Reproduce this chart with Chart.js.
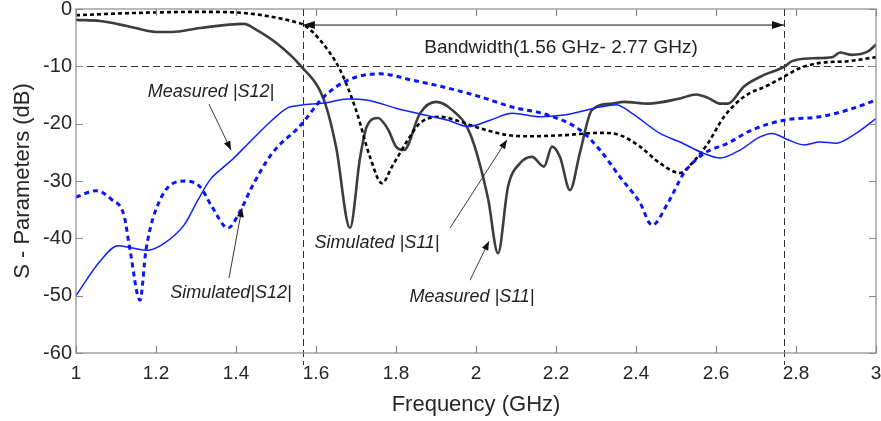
<!DOCTYPE html>
<html>
<head>
<meta charset="utf-8">
<script src="https://cdn.jsdelivr.net/npm/chart.js@4.4.1/dist/chart.umd.min.js"></script>
<style>
  html, body { margin: 0; background: #fff; }
</style>
</head>
<body>
<canvas id="sparams" width="881" height="421"></canvas>
<script>
// Frequency (GHz) / level (dB)
const measS11Freq = [1.00, 1.06, 1.13, 1.20, 1.24, 1.31, 1.42, 1.45, 1.50, 1.56, 1.62, 1.65, 1.685, 1.71, 1.727, 1.755, 1.78, 1.80, 1.82, 1.86, 1.90, 1.94, 1.985, 2.03, 2.055, 2.08, 2.11, 2.14, 2.17, 2.19, 2.21, 2.235, 2.26, 2.29, 2.34, 2.37, 2.43, 2.51, 2.55, 2.58, 2.61, 2.63, 2.67, 2.72, 2.77, 2.79, 2.84, 2.89, 2.91, 2.94, 2.98, 3.00];
const measS11Db = [-1.9, -2.1, -3.0, -4.0, -4.0, -3.3, -2.6, -3.6, -5.9, -9.8, -15.9, -24.0, -38.2, -26.0, -20.5, -19.0, -21.0, -24.0, -24.6, -18.2, -16.2, -17.6, -21.7, -33.0, -42.6, -31.0, -26.9, -25.8, -27.5, -24.0, -25.8, -31.6, -25.0, -17.6, -16.5, -16.2, -16.5, -15.6, -14.9, -15.5, -16.5, -16.5, -13.5, -11.5, -10.1, -9.1, -8.6, -8.4, -7.6, -8.0, -7.4, -6.2];

const simS11Freq = [1.00, 1.10, 1.20, 1.31, 1.42, 1.50, 1.55, 1.57, 1.61, 1.66, 1.70, 1.735, 1.765, 1.79, 1.83, 1.86, 1.91, 1.95, 2.01, 2.08, 2.135, 2.22, 2.31, 2.36, 2.41, 2.46, 2.51, 2.54, 2.58, 2.62, 2.67, 2.73, 2.77, 2.81, 2.86, 2.93, 3.00];
const simS11Db = [-1.1, -0.8, -0.6, -0.5, -0.7, -1.5, -2.3, -2.8, -5.4, -10.6, -17.6, -25.8, -30.4, -27.5, -22.8, -19.9, -18.8, -19.4, -20.8, -22.0, -22.2, -22.0, -21.6, -22.0, -24.0, -26.9, -28.6, -26.9, -23.4, -18.8, -15.3, -13.3, -11.8, -10.3, -9.4, -9.1, -8.4];

const measS12Freq = [1.00, 1.06, 1.105, 1.14, 1.18, 1.22, 1.27, 1.305, 1.335, 1.37, 1.39, 1.44, 1.49, 1.53, 1.56, 1.62, 1.68, 1.73, 1.80, 1.86, 1.93, 1.98, 2.035, 2.09, 2.16, 2.22, 2.31, 2.35, 2.39, 2.46, 2.51, 2.57, 2.61, 2.66, 2.71, 2.74, 2.78, 2.82, 2.86, 2.90, 2.95, 3.00];
const measS12Db = [-50.0, -44.0, -41.3, -41.7, -42.1, -40.9, -37.7, -33.3, -29.8, -27.5, -26.3, -22.8, -19.4, -17.2, -16.8, -16.4, -15.7, -15.9, -17.3, -18.3, -19.4, -20.5, -19.4, -18.2, -18.8, -18.5, -17.1, -16.7, -18.2, -21.7, -23.2, -25.2, -26.0, -24.6, -22.3, -21.7, -22.8, -23.7, -23.2, -23.4, -21.7, -19.1];

const simS12Freq = [1.00, 1.05, 1.09, 1.12, 1.135, 1.16, 1.175, 1.21, 1.27, 1.31, 1.34, 1.38, 1.41, 1.44, 1.49, 1.56, 1.62, 1.68, 1.76, 1.84, 1.93, 2.01, 2.09, 2.18, 2.26, 2.31, 2.36, 2.41, 2.44, 2.48, 2.52, 2.57, 2.63, 2.69, 2.77, 2.86, 2.93, 3.00];
const simS12Db = [-32.8, -31.7, -33.3, -36.0, -42.0, -50.8, -42.0, -33.3, -30.0, -31.0, -34.5, -38.2, -35.3, -31.0, -25.2, -20.4, -15.3, -12.4, -11.3, -12.4, -13.8, -15.3, -17.1, -18.5, -21.1, -24.6, -29.3, -33.8, -37.7, -33.8, -28.6, -25.2, -23.4, -21.1, -19.4, -18.8, -17.6, -15.9];

const xTicks = [1, 1.2, 1.4, 1.6, 1.8, 2, 2.2, 2.4, 2.6, 2.8, 3];
const yTicks = [0, -10, -20, -30, -40, -50, -60];

const bandEdges = [1.567, 2.77];
const refLevel = -10;
const bandLabel = 'Bandwidth(1.56 GHz- 2.77 GHz)';

// curve labels: text, label anchor (f, dB), arrow tail and head (f, dB)
const curveNotes = [
  { text: 'Measured |S12|', at: [1.3375, -14.5], from: [1.3325, -16.6], to: [1.3875, -24.6] },
  { text: 'Simulated|S12|', at: [1.3875, -49.6], from: [1.3825, -46.9], to: [1.415, -34.7] },
  { text: 'Simulated |S11|', at: [1.7525, -40.8], from: [1.935, -38.2], to: [2.0775, -22.8] },
  { text: 'Measured |S11|', at: [1.99, -50.2], from: [1.985, -47.3], to: [2.0325, -40.5] },
];

const FONT = '"Liberation Sans", Arial, sans-serif';

function zip(xs, ys) {
  return xs.map((x, i) => ({ x, y: ys[i] }));
}

function arrowHead(ctx, x1, y1, x2, y2, len, half) {
  const ang = Math.atan2(y2 - y1, x2 - x1);
  ctx.beginPath();
  ctx.moveTo(x2, y2);
  ctx.lineTo(x2 - len * Math.cos(ang) + half * Math.sin(ang), y2 - len * Math.sin(ang) - half * Math.cos(ang));
  ctx.lineTo(x2 - len * Math.cos(ang) - half * Math.sin(ang), y2 - len * Math.sin(ang) + half * Math.cos(ang));
  ctx.closePath();
  ctx.fill();
}

function arrow(ctx, x1, y1, x2, y2) {
  ctx.beginPath();
  ctx.moveTo(x1, y1);
  ctx.lineTo(x2, y2);
  ctx.stroke();
  arrowHead(ctx, x1, y1, x2, y2, 9, 3.5);
}

// no extra room for overhanging tick labels: the plot box is fixed
function fixPadding(scale) {
  scale.paddingLeft = 0;
  scale.paddingRight = 0;
  scale.paddingTop = 0;
  scale.paddingBottom = 0;
}

const overlay = {
  id: 'overlay',
  beforeDatasetsDraw(chart) {
    const { ctx, chartArea: area, scales: { x, y } } = chart;
    ctx.save();
    ctx.strokeStyle = '#333';
    ctx.lineWidth = 1;
    ctx.setLineDash([7, 4]);
    const yRef = Math.round(y.getPixelForValue(refLevel)) + 0.5;
    ctx.beginPath();
    ctx.moveTo(area.left, yRef);
    ctx.lineTo(area.right, yRef);
    bandEdges.forEach((f) => {
      const px = Math.round(x.getPixelForValue(f)) + 0.5;
      ctx.moveTo(px, area.top);
      ctx.lineTo(px, area.bottom + 12);
    });
    ctx.stroke();
    ctx.restore();
  },
  afterDatasetsDraw(chart) {
    const { ctx, chartArea: area, scales: { x, y } } = chart;
    ctx.save();

    // box and inward ticks
    ctx.strokeStyle = '#8a8a8a';
    ctx.lineWidth = 1.2;
    ctx.strokeRect(area.left, area.top, area.right - area.left, area.bottom - area.top);
    ctx.beginPath();
    xTicks.forEach((v) => {
      const px = Math.round(x.getPixelForValue(v)) + 0.5;
      ctx.moveTo(px, area.bottom); ctx.lineTo(px, area.bottom - 7);
      ctx.moveTo(px, area.top); ctx.lineTo(px, area.top + 7);
    });
    yTicks.forEach((v) => {
      const py = Math.round(y.getPixelForValue(v)) + 0.5;
      ctx.moveTo(area.left, py); ctx.lineTo(area.left + 7, py);
      ctx.moveTo(area.right, py); ctx.lineTo(area.right - 7, py);
    });
    ctx.stroke();

    // bandwidth double arrow
    ctx.strokeStyle = '#111';
    ctx.fillStyle = '#111';
    ctx.lineWidth = 1;
    const ya = y.getPixelForValue(-2.8);
    const xa = x.getPixelForValue(bandEdges[0]);
    const xb = x.getPixelForValue(bandEdges[1]);
    ctx.beginPath();
    ctx.moveTo(xa, ya); ctx.lineTo(xb, ya);
    ctx.stroke();
    arrowHead(ctx, xb, ya, xa, ya, 12, 4);
    arrowHead(ctx, xa, ya, xb, ya, 12, 4);

    ctx.fillStyle = '#222';
    ctx.font = '19px ' + FONT;
    ctx.textAlign = 'center';
    ctx.textBaseline = 'middle';
    ctx.fillText(bandLabel, x.getPixelForValue(2.2125), y.getPixelForValue(-6.8));

    // curve notes
    ctx.font = 'italic 18px ' + FONT;
    curveNotes.forEach((n) => {
      ctx.fillStyle = '#222';
      ctx.fillText(n.text, x.getPixelForValue(n.at[0]), y.getPixelForValue(n.at[1]));
      ctx.strokeStyle = '#222';
      ctx.fillStyle = '#111';
      ctx.lineWidth = 0.9;
      arrow(ctx,
        x.getPixelForValue(n.from[0]), y.getPixelForValue(n.from[1]),
        x.getPixelForValue(n.to[0]), y.getPixelForValue(n.to[1]));
    });

    ctx.restore();
  },
};

const chart = new Chart(document.getElementById('sparams'), {
  type: 'line',
  data: {
    datasets: [
      {
        label: 'Simulated |S12|',
        data: zip(simS12Freq, simS12Db),
        borderColor: '#0a14ff',
        borderWidth: 3,
        borderDash: [5, 4],
      },
      {
        label: 'Measured |S12|',
        data: zip(measS12Freq, measS12Db),
        borderColor: '#1020ff',
        borderWidth: 1.5,
      },
      {
        label: 'Simulated |S11|',
        data: zip(simS11Freq, simS11Db),
        borderColor: '#000',
        borderWidth: 2.6,
        borderDash: [4, 3],
      },
      {
        label: 'Measured |S11|',
        data: zip(measS11Freq, measS11Db),
        borderColor: '#3d3d3d',
        borderWidth: 2.6,
      },
    ],
  },
  options: {
    responsive: false,
    animation: false,
    parsing: false,
    layout: { padding: { left: 0, top: 9, right: 5, bottom: 0 } },
    elements: {
      point: { radius: 0 },
      line: { cubicInterpolationMode: 'monotone', fill: false },
    },
    plugins: {
      legend: { display: false },
      tooltip: { enabled: false },
    },
    scales: {
      x: {
        type: 'linear',
        min: 1,
        max: 3,
        afterBuildTicks: (scale) => { scale.ticks = xTicks.map((v) => ({ value: v })); },
        afterFit: (scale) => { scale.height = 68; fixPadding(scale); },
        grid: { display: false, drawTicks: false },
        border: { display: false },
        ticks: {
          padding: 9,
          color: '#262626',
          font: { family: FONT, size: 19 },
          maxRotation: 0,
          autoSkip: false,
          callback: (v) => String(Number(v.toFixed(1))),
        },
        title: {
          display: true,
          text: 'Frequency (GHz)',
          color: '#262626',
          font: { family: FONT, size: 22 },
          padding: { top: 0, bottom: 3 },
        },
      },
      y: {
        type: 'linear',
        min: -60,
        max: 0,
        afterBuildTicks: (scale) => { scale.ticks = yTicks.map((v) => ({ value: v })); },
        afterFit: (scale) => { scale.width = 76; fixPadding(scale); },
        grid: { display: false, drawTicks: false },
        border: { display: false },
        ticks: {
          padding: 4,
          color: '#262626',
          font: { family: FONT, size: 20 },
          autoSkip: false,
        },
        title: {
          display: true,
          text: 'S - Parameters (dB)',
          color: '#262626',
          font: { family: FONT, size: 22 },
          padding: { top: 10, bottom: 0 },
        },
      },
    },
  },
  plugins: [overlay],
});
</script>
</body>
</html>
